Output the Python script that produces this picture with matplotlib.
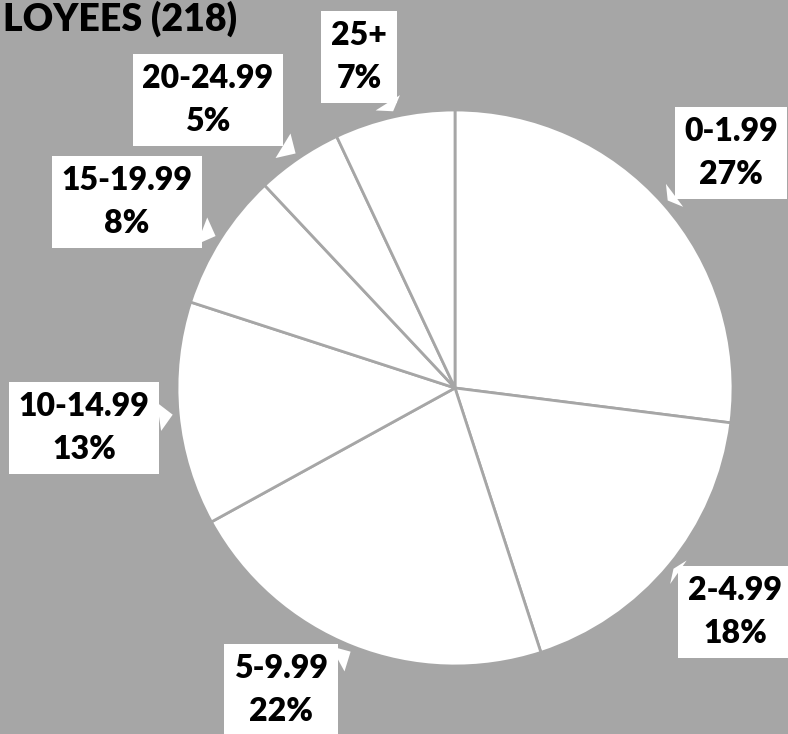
import numpy as np
import matplotlib
matplotlib.use('Agg')
from matplotlib import pyplot as plt

# Share of employees by years of service (total 218)
ranges = ['0-1.99', '2-4.99', '5-9.99', '10-14.99', '15-19.99', '20-24.99', '25+']
shares = [27, 18, 22, 13, 8, 5, 7]
title = 'LOYEES (218)'

# label box centres, in pixels of the 788x734 canvas
label_px = [(731, 153), (735, 612), (281, 690), (84, 428),
            (127, 202), (208, 100), (359, 57)]

W, H = 788, 734
cx, cy, R = 455, 388, 278
bg = '#a6a6a6'

plt.rcParams['font.family'] = ['Lato', 'DejaVu Sans']

fig = plt.figure(figsize=(W / 100, H / 100), dpi=100, facecolor=bg)
ax = fig.add_axes([0, 0, 1, 1])
ax.set_facecolor(bg)

wedges, _ = ax.pie(shares, startangle=90, counterclock=False, radius=1,
                   wedgeprops=dict(facecolor='white', edgecolor=bg, linewidth=2))

ax.set_xlim(-cx / R, (W - cx) / R)
ax.set_ylim(-(H - cy) / R, cy / R)
ax.set_aspect('equal')
ax.axis('off')

total = float(sum(shares))
for w, name, val, (px, py) in zip(wedges, ranges, shares, label_px):
	mid = np.deg2rad((w.theta1 + w.theta2) / 2)
	tip = (1.02 * np.cos(mid), 1.02 * np.sin(mid))
	pos = ((px - cx) / R, (cy - py) / R)
	ax.annotate('%s\n%d%%' % (name, round(100 * val / total)), xy=tip, xytext=pos,
				ha='center', va='center', fontsize=23, fontweight='heavy',
				linespacing=1.6, annotation_clip=False,
				bbox=dict(boxstyle='square,pad=0.3', fc='white', ec='none'),
				arrowprops=dict(arrowstyle='wedge,tail_width=0.9', fc='white',
								ec='none', shrinkA=0, shrinkB=0))

# title is cropped on the left in the original picture
fig.text(3 / W, 1 - 31 / H, title, ha='left', va='baseline',
		 fontsize=27, fontweight='heavy')

fig.savefig('out.png', dpi=100, facecolor=bg)
